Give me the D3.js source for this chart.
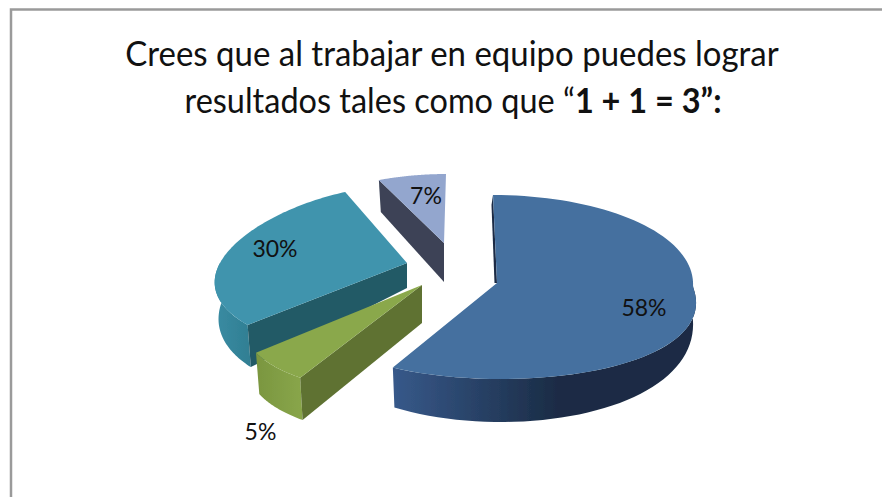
<!DOCTYPE html>
<html><head><meta charset="utf-8">
<script src="https://cdn.jsdelivr.net/npm/d3@7"></script>
<style>html,body{margin:0;padding:0;background:#fff;overflow:hidden}svg{display:block}text{font-family:Lato,"Open Sans",sans-serif;fill:#111}</style>
</head><body><svg id="c" width="882" height="497"></svg>
<script>
const values = [58, 5, 30, 7];
const labels = ["58%", "5%", "30%", "7%"];
const titleLine1 = "Crees que al trabajar en equipo puedes lograr";
const titleLine2a = "resultados tales como que “";
const titleLine2b = "1 + 1 = 3";
const titleLine2c = "”:";

const topColors = ["#44709f", "#8aa84b", "#3f94ad", "#93a6ce"];
const cutColors = ["#1a2b44", "#5f7233", "#235a66", "#3c4356"];
const wallFrom  = ["#37598a", "#7a9640", "#3a8ba2", "#3c4356"];
const wallTo    = ["#1a2b44", "#88a549", "#2f7e92", "#3c4356"];

// per-slice layout: apex, radii, perspective, wall heights, bottom ring shrink
const layout = [
  {cx:497, cy:283, rimDy:4, rx:196, ry:92, px:.16, pxTop:-.05, py:0, sk:4, a:17, b:26, ca:17, bs:.985, wx:[393,560], outer:[Math.PI/2, null], sliver:2.5},
  {cx:422, cy:285, rimDy:0, rx:138, ry:74, px:.95, py:.49, sk:0, a:38, b:5, ca:38, bs:.98, wx:[256,300], outer:[null, null], cut:true},
  {cx:407, cy:263, rimDy:0, rx:187, ry:85.3, px:.247, py:.088, sk:0, a:34, b:12, ca:25, bs:.98, wx:[216,252], outer:[null, Math.PI*1.5], cut:true},
  {cx:444, cy:243, rimDy:0, rx:192, ry:75.3, px:.2, py:.084, sk:-2, a:39, b:7.7, ca:39, bs:.97, cut:true}
];
const labelPos = [[644,307],[260.5,431],[275,248],[426,195]];
const drawOrder = [2, 3, 0, 1];

const svg = d3.select("#c");
const defs = svg.append("defs");
defs.append("filter").attr("id","soft").append("feGaussianBlur").attr("stdDeviation",0.6);

svg.append("path").attr("d","M11,497V9.5H882").attr("fill","none").attr("stroke","#9a9a9a").attr("stroke-width",2.5);

const arcs = d3.pie().sort(null).value(d=>d)(values);
const line = d3.line();
const toPt = (L,t) => {
  const x = Math.sin(t), y = -Math.cos(t);
  const p = (y<0 && L.pxTop!==undefined) ? L.pxTop : L.px;
  return [L.cx + L.rx*x*(1+p*y) + L.sk*y, L.cy + L.rimDy + L.ry*y*(1+L.py*y)];
};
const h = (L,t) => L.a + L.b*(-Math.cos(t));
const botPt = (L,t) => { const p = toPt(L,t); return [L.cx+(p[0]-L.cx)*L.bs, p[1]+h(L,t)]; };
const samples = (a0,a1,n=48) => d3.range(n+1).map(i => a0+(a1-a0)*i/n);
const g = svg.append("g").attr("filter","url(#soft)");

drawOrder.forEach(i => {
  const L = layout[i], A = arcs[i], apex=[L.cx,L.cy];
  const id = "w"+i;
  if (L.wx) {
    const gr = defs.append("linearGradient").attr("id",id).attr("gradientUnits","userSpaceOnUse")
      .attr("x1",L.wx[0]).attr("x2",L.wx[1]).attr("y1",0).attr("y2",0);
    gr.append("stop").attr("offset",0).attr("stop-color",wallFrom[i]);
    gr.append("stop").attr("offset",1).attr("stop-color",wallTo[i]);
  }
  if (L.outer) {
    const a0 = L.outer[0] ?? A.startAngle, a1 = L.outer[1] ?? A.endAngle;
    const ts = samples(a0,a1);
    const top = ts.map(t=>toPt(L,t));
    const bot = ts.map(t=>botPt(L,t)).reverse();
    g.append("path").attr("d",line(top.concat(bot))+"Z").attr("fill",`url(#${id})`);
  }
  if (L.cut) {
    const t = A.startAngle;
    g.append("path").attr("d",line([apex,toPt(L,t),botPt(L,t),[apex[0],apex[1]+L.ca]])+"Z").attr("fill",cutColors[i]);
  }
  if (L.sliver) {
    const p = toPt(L,A.startAngle);
    g.append("path").attr("d",line([p,apex,[apex[0]-L.sliver,apex[1]],[p[0]-L.sliver+1,p[1]+10]])+"Z").attr("fill",cutColors[i]);
  }
  const face = [apex].concat(samples(A.startAngle,A.endAngle,96).map(t=>toPt(L,t)));
  g.append("path").attr("d",line(face)+"Z").attr("fill",topColors[i]);
});

svg.selectAll("text.lab").data(labels).join("text").attr("class","lab")
  .attr("x",(d,i)=>labelPos[i][0]).attr("y",(d,i)=>labelPos[i][1])
  .attr("text-anchor","middle").attr("dominant-baseline","central")
  .attr("font-size",23).text(d=>d);

svg.append("text").attr("transform","translate(452,66) scale(.97,1)").attr("text-anchor","middle").attr("font-size",34).text(titleLine1);
const t2 = svg.append("text").attr("transform","translate(453,113) scale(.955,1)").attr("text-anchor","middle").attr("font-size",34);
t2.append("tspan").text(titleLine2a);
t2.append("tspan").attr("font-weight",700).text(titleLine2b);
t2.append("tspan").attr("font-weight",700).text(titleLine2c);
</script></body></html>
